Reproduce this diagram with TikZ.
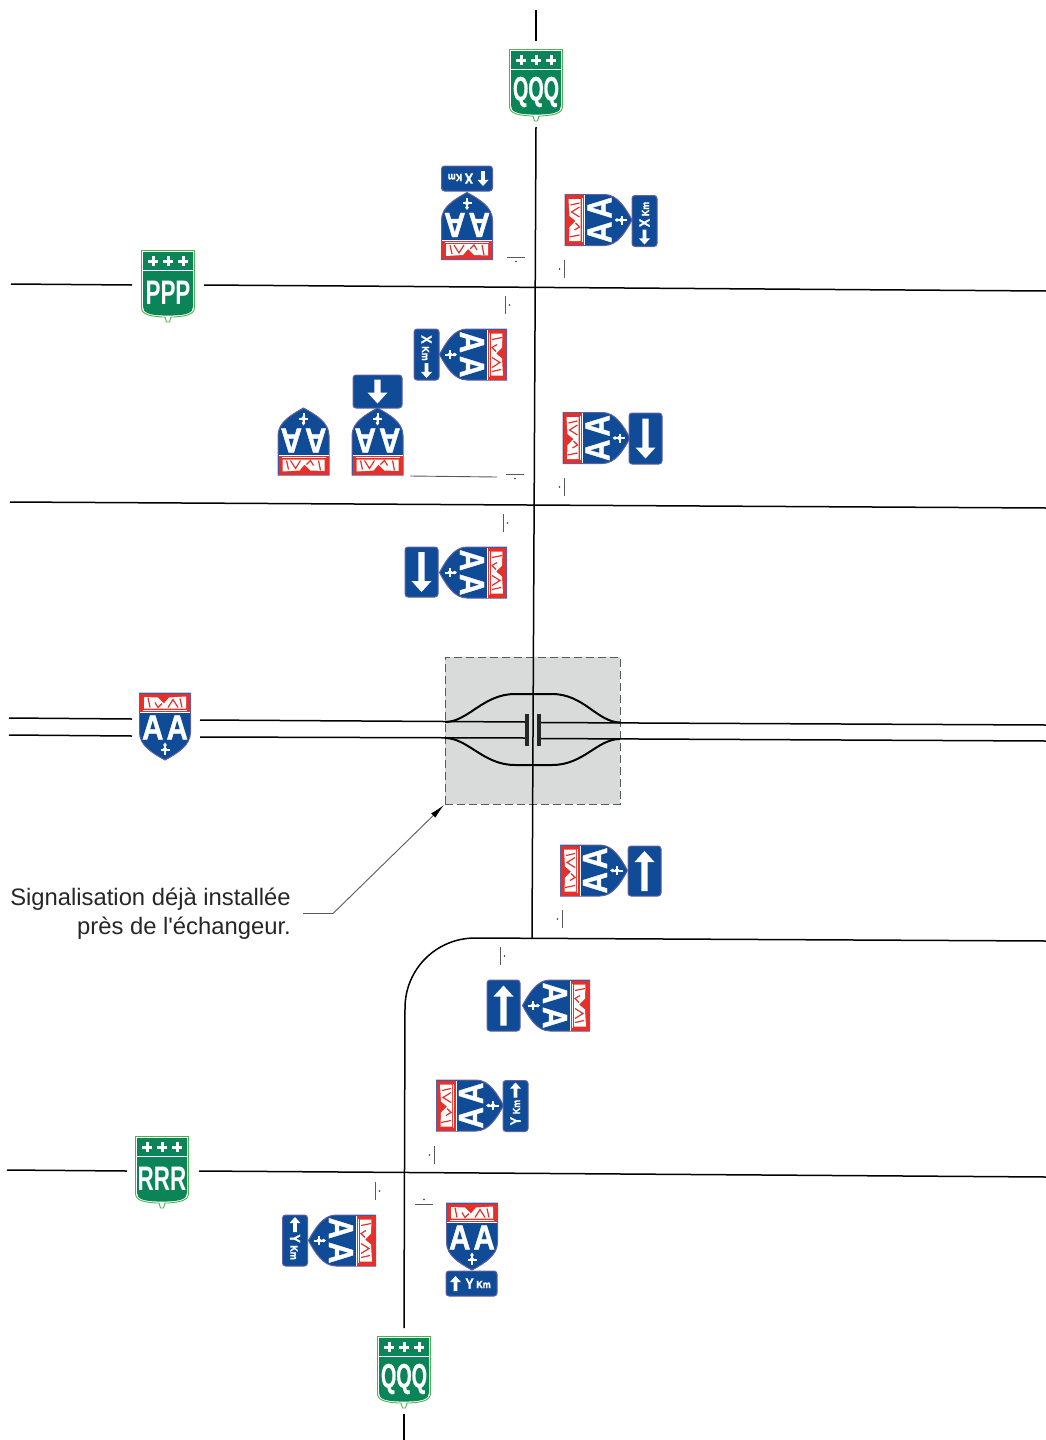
\documentclass[tikz,border=0pt]{standalone}
\usepackage{fontspec}
\setmainfont{Liberation Sans}
\newfontfamily\notefont{Liberation Sans}
\newfontfamily\signfont[FakeStretch=0.85,FakeBold=1]{Liberation Sans Bold}
\newfontfamily\routefont[FakeStretch=0.66]{Liberation Sans Bold}
\newfontfamily\routeqfont[FakeStretch=0.58,FakeBold=0.6]{Liberation Sans Bold}
\usetikzlibrary{arrows.meta}
\definecolor{signblue}{HTML}{0F4B96}
\definecolor{signred}{HTML}{E8302A}
\definecolor{signgreen}{HTML}{0B8558}
\definecolor{zonegray}{HTML}{D9DADA}
\tikzset{
  road/.style={line width=1.5pt,black},
  slot/.style={minimum width=72pt,minimum height=86pt,inner sep=0pt,outer sep=0pt},
  signedge/.style={draw=gray!75!blue,line width=1pt},
  pics/fleur/.style={code={
    \draw[white,line width=2pt] (0,-5.5) -- (0,5.5) (-4.5,0) -- (4.5,0);
    \fill[white] (-2.6,0) -- (0,-3) -- (2.6,0) -- (0,3) -- cycle;
    \fill[white] (0,-7) -- (1.8,-4.5) -- (0,-2) -- (-1.8,-4.5) -- cycle;
  }},
  pics/aashield/.style={code={
    \path[signedge,fill=signblue] (-25.5,-33.5) -- (25.5,-33.5) -- (25.5,6)
      .. controls (25.5,19) and (12,27) .. (0,33.5)
      .. controls (-12,27) and (-25.5,19) .. (-25.5,6) -- cycle;
    \fill[signred] (-25,-33) rectangle (25,-14.5);
    \draw[white,line width=0.8pt] (-25,-14) -- (25,-14);
    % skyline of the band
    \fill[white] (-21,-29.5) -- (-7,-29) -- (-1,-23) -- (4,-29) -- (21,-30) -- (21,-18) -- (-21,-18) -- cycle;
    \draw[signred,line width=1.2pt] (-17,-29) -- (-15,-19) (-10,-24) -- (-7,-19) -- (-3,-23) (3,-19) -- (8,-27) -- (13,-19) (15,-28) -- (17,-19);
    \draw[white,line width=0.8pt] (-22,-16.3) -- (22,-16.3);
    \node[white,inner sep=0pt,transform shape,font=\fontsize{35}{35}\signfont] at (0,1) {A\kern3pt A};
    \pic[transform shape] at (0,23) {fleur};
  }},
  pics/routeshield/.style={code={
    \path[draw=gray!60!green,line width=0.9pt,fill=white] (-26.5,-35.5) -- (26.5,-35.5) -- (26.5,21)
      .. controls (26.5,28) and (20,30) .. (6,31) -- (3,31) -- (1.5,36) -- (-1.5,36) -- (-3,31) -- (-6,31)
      .. controls (-20,30) and (-26.5,28) .. (-26.5,21) -- cycle;
    \fill[signgreen] (-25,-34) -- (25,-34) -- (25,20.5)
      .. controls (25,27) and (19,29) .. (5,29.5) -- (-5,29.5)
      .. controls (-19,29) and (-25,27) .. (-25,20.5) -- cycle;
    \draw[white,line width=1pt] (-25,-15.5) -- (25,-15.5);
    \foreach \px in {-15,0,15} {
      \draw[white,line width=3pt] (\px,-30) -- (\px,-20) (\px-5,-25) -- (\px+5,-25);
    }
    \node[white,inner sep=0pt,font=\fontsize{34}{34}\routefont] at (0,7) {#1};
  }},
  pics/signarrow/.style 2 args={code={
    \fill[white] (-#1*0.16,#2) -- (-#1*0.16,-#2+0.55*#1) -- (-#1/2,-#2+0.55*#1) -- (0,-#2)
      -- (#1/2,-#2+0.55*#1) -- (#1*0.16,-#2+0.55*#1) -- (#1*0.16,#2) -- cycle;
  }},
  pics/kmpanel/.style n args={3}{code={
    \path[signedge,fill=signblue,rounded corners=3pt] (-25.5,-12.5) rectangle (25.5,12.5);
    \pic[rotate=#2,transform shape] at (#1,0) {signarrow={11}{7.5}};
    \node[white,inner sep=0pt,transform shape,font=\fontsize{15}{15}\signfont] at (-8.5-0.41*#1,0) {#3};
    \node[white,inner sep=0pt,transform shape,font=\fontsize{10.5}{10.5}\signfont] at (5.5-0.41*#1,1) {Km};
  }},
  pics/arrowpanel/.style n args={4}{code={
    \path[signedge,fill=signblue,rounded corners=3pt] (-#1/2,-#2/2) rectangle (#1/2,#2/2);
    \pic[rotate=#3,transform shape] at (0,0) {signarrow={20}{#4}};
  }},
  pics/stopmark/.style={code={
    \draw[gray!70!black,line width=0.9pt] (-9,0) -- (9,0);
    \fill[black!80] (0,4.5) circle (0.9pt);
  }},
}
\begin{document}
\begin{tikzpicture}[x=1pt,y=-1pt]
  \useasboundingbox (0,0) rectangle (1046,1440);

  \node[fill=zonegray,draw=black!65,line width=0.9pt,dash pattern=on 8pt off 4pt,minimum width=175pt,minimum height=147pt,inner sep=0pt,outer sep=0pt] (zone) at (532.5,730.5) {};

  % slots kept free along the roads
  \node[slot] (qqqN) at (536,84) {};
  \node[slot] (ppp) at (168,285) {};
  \node[slot,minimum width=68pt] (aa) at (166,727) {};
  \node[slot] (rrr) at (163,1171) {};
  \node[slot] (qqqS) at (404,1371) {};

  \coordinate (topend) at (536,10);
  \coordinate (botend) at (404,1440);
  \coordinate (junction) at (532,938);
  \coordinate (bendtop) at (475,938);
  \coordinate (bendleft) at (405,1008);

  \draw[road] (topend) -- (qqqN.north);
  \draw[road] (qqqN.south) -- (junction);
  \draw[road] (11,284) -- (ppp.west);
  \draw[road] (ppp.east) -- (1046,291);
  \draw[road] (10,502) -- (1046,508);
  \draw[road] (7,1170) -- (rrr.west);
  \draw[road] (rrr.east) -- (1046,1177);
  \draw[road] (1046,941) -- (bendtop) to[out=180,in=90] (bendleft) -- (qqqS.north);
  \draw[road] (qqqS.south) -- (botend);

  % freeway and interchange
  \draw[road] (9,718) -- (aa.west |- 0,719);
  \draw[road] (9,735) -- (aa.west |- 0,736);
  \draw[road] (aa.east |- 0,720) -- (526,722);
  \draw[road] (aa.east |- 0,737) -- (526,738);
  \draw[road] (539,722.5) -- (1046,725);
  \draw[road] (539,738.5) -- (1046,741);
  \draw[road,line width=2pt] (445,722) .. controls (468,722) and (483,694) .. (515,694) -- (552,694) .. controls (584,694) and (597,722) .. (620,722.5);
  \draw[road,line width=2pt] (445,738) .. controls (468,738) and (483,765) .. (515,765) -- (552,765) .. controls (584,765) and (597,739) .. (620,739);
  \draw[black!85,line width=3.6pt] (527,714) -- (527,746) (539,714) -- (539,746);

  \foreach \mx/\my/\mrot in {516/257/0,564/269/-90,505/305/90,515/474/0,564/487/-90,503/523/90,562/919/-90,500/956/90,434/1155/-90,375/1191/90,424/1204/180} {
    \pic[rotate=\mrot] at (\mx,\my) {stopmark};
  }
  \draw[gray!70!black,line width=0.9pt] (410,476) -- (497,477);

  % route shields
  \pic at (536,85) {routeshield={\routeqfont QQQ}};
  \pic at (168,286) {routeshield={PPP}};
  \pic at (162,1172) {routeshield={RRR}};
  \pic at (404,1372) {routeshield={\routeqfont QQQ}};

  % freeway shields and their panels
  \pic[rotate=180] at (467,226) {aashield};
  \pic[rotate=180] at (467,178.5) {kmpanel={-16}{0}{X}};
  \pic[rotate=90] at (598.5,220) {aashield};
  \pic[rotate=90] at (644.5,221) {kmpanel={-16}{90}{X}};
  \pic[rotate=-90] at (473,354.5) {aashield};
  \pic[rotate=-90] at (426.5,354.5) {kmpanel={16}{-90}{X}};
  \pic at (377.5,391.5) {arrowpanel={49}{33}{180}{12}};
  \pic[rotate=180] at (377.5,441.5) {aashield};
  \pic[rotate=180] at (303.5,441.5) {aashield};
  \pic[rotate=90] at (596.5,438) {aashield};
  \pic at (645.5,438.5) {arrowpanel={33}{51}{180}{20}};
  \pic[rotate=-90] at (473,572.5) {aashield};
  \pic at (421.5,572) {arrowpanel={33}{50}{180}{20}};
  \pic at (165,726.5) {aashield};
  \pic[rotate=90] at (594,870.5) {aashield};
  \pic at (644.5,871) {arrowpanel={33}{50}{0}{20}};
  \pic[rotate=-90] at (556,1005.5) {aashield};
  \pic at (503.5,1005.5) {arrowpanel={33}{51}{0}{20}};
  \pic[rotate=90] at (470,1105.5) {aashield};
  \pic[rotate=90] at (515.5,1106) {kmpanel={16}{-90}{Y}};
  \pic[rotate=-90] at (342,1240.5) {aashield};
  \pic[rotate=-90] at (295,1240.5) {kmpanel={-16}{90}{Y}};
  \pic at (472,1236.5) {aashield};
  \pic at (471.5,1283.5) {kmpanel={-16}{0}{Y}};

  % note
  \node[anchor=east,align=right,inner sep=0pt,font=\fontsize{23.8}{29}\notefont,black!85] (note) at (291,913.5) {Signalisation déjà installée\\près de l'échangeur.};
  \coordinate (kink) at (333,913.5);
  \draw[gray!70!black,line width=0.9pt,-{Latex[length=15pt,width=6pt,black]}] ([xshift=12pt]note.east |- kink) -- (kink) -- ([xshift=-1pt,yshift=-1pt]zone.south west);
\end{tikzpicture}
\end{document}
